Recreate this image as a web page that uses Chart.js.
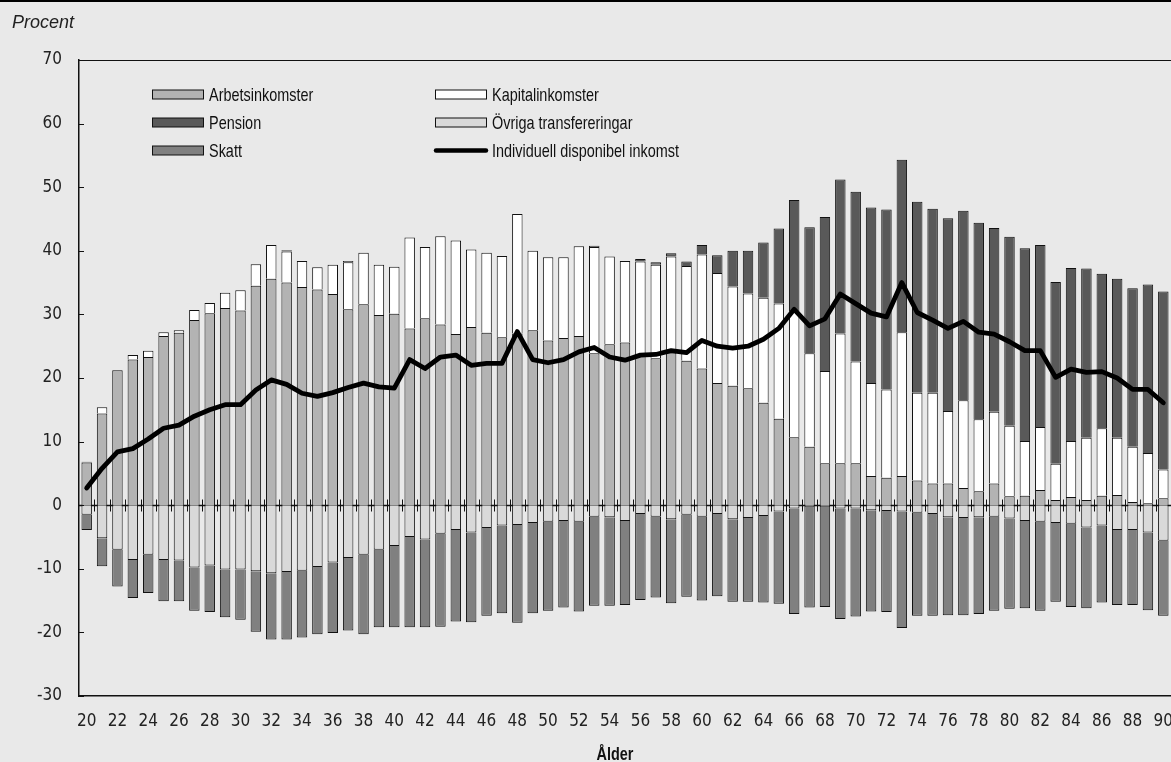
<!DOCTYPE html>
<html><head><meta charset="utf-8">
<script src="https://cdn.jsdelivr.net/npm/chart.js@4.4.1/dist/chart.umd.min.js"></script>
<style>
html,body{margin:0;padding:0;background:#e9e9e9;overflow:hidden}
#wrap{position:relative;width:1171px;height:762px}
canvas{display:block}
</style>
</head><body><div id="wrap"><canvas id="c" width="1171" height="762"></canvas></div>
<script>
const ages = ['20','21','22','23','24','25','26','27','28','29','30','31','32','33','34','35','36','37','38','39','40','41','42','43','44','45','46','47','48','49','50','51','52','53','54','55','56','57','58','59','60','61','62','63','64','65','66','67','68','69','70','71','72','73','74','75','76','77','78','79','80','81','82','83','84','85','86','87','88','89','90'];
const xTickLabels = ['20','22','24','26','28','30','32','34','36','38','40','42','44','46','48','50','52','54','56','58','60','62','64','66','68','70','72','74','76','78','80','82','84','86','88','90'];
const yTicks = [70,60,50,40,30,20,10,0,-10,-20,-30];

const arbetsinkomster = [6.7,14.4,21.2,22.9,23.3,26.6,27.1,29.1,30.2,31.0,
 30.6,34.5,35.6,35.0,34.3,33.9,33.2,30.8,31.6,29.9,
 30.1,27.8,29.4,28.4,26.9,28.0,27.1,26.4,27.0,27.5,
 25.9,26.3,26.6,23.9,25.3,25.6,23.5,23.1,24.0,22.7,
 21.5,19.2,18.8,18.4,16.1,13.6,10.7,9.2,6.6,6.6,
 6.6,4.6,4.3,4.6,3.9,3.4,3.4,2.7,2.2,3.4,
 1.4,1.5,2.4,0.8,1.3,0.8,1.5,1.6,0.5,0.3,1.1];
const kapitalinkomster = [0,1.0,0,0.7,1.0,0.6,0.4,1.6,1.6,2.4,
 3.2,3.4,5.3,4.9,4.1,3.5,4.6,7.4,8.1,7.9,
 7.4,14.3,11.2,13.9,14.7,12.2,12.6,12.8,18.8,12.5,
 13.1,12.7,14.1,16.7,13.8,12.8,14.8,14.7,15.1,14.9,
 17.9,17.3,15.6,14.9,16.5,18.1,19.8,14.7,14.5,20.4,
 16.0,14.6,13.9,22.6,13.8,14.3,11.4,13.8,11.3,11.3,
 11.1,8.6,9.9,5.7,8.8,9.8,10.6,9.0,8.7,7.9,4.5];
const pension = [0.15,0,0,0,0,0,0,0,0,0,
 0,0,0,0.2,0,0,0,0.2,0,0,
 0,0,0,0,0,0,0,0,0,0,
 0,0,0,0.2,0,0,0.4,0.4,0.5,0.7,
 1.5,2.8,5.6,6.7,8.7,11.8,17.5,19.8,24.2,24.2,
 26.7,27.6,28.3,27.1,30.0,28.9,30.3,29.8,30.9,28.9,
 29.7,30.3,28.6,28.6,27.2,26.6,24.3,25.0,24.9,26.5,28.0];
const ovrigaTransfereringar = [-1.5,-5.2,-7.0,-8.6,-7.8,-8.6,-8.7,-9.8,-9.5,-10.1,
 -10.1,-10.4,-10.7,-10.5,-10.3,-9.7,-9.0,-8.3,-7.8,-7.0,
 -6.4,-5.0,-5.4,-4.5,-3.9,-4.3,-3.6,-3.2,-3.1,-2.8,
 -2.6,-2.5,-2.6,-1.8,-1.9,-2.5,-1.4,-1.8,-2.2,-1.5,
 -1.8,-1.4,-2.2,-2.0,-1.7,-1.0,-0.5,-0.3,-0.3,-0.5,
 -0.5,-0.8,-0.9,-1.0,-1.2,-1.4,-1.9,-2.0,-1.9,-1.8,
 -2.1,-2.5,-2.6,-2.8,-2.9,-3.5,-3.2,-3.9,-3.9,-4.3,-5.6];
const skatt = [-2.4,-4.4,-5.8,-6.0,-6.0,-6.5,-6.4,-6.8,-7.3,-7.5,
 -7.9,-9.5,-10.4,-10.6,-10.5,-10.6,-11.1,-11.4,-12.5,-12.2,
 -12.8,-14.2,-13.8,-14.6,-14.4,-14.1,-13.8,-13.8,-15.4,-14.2,
 -14.0,-13.6,-14.1,-14.0,-13.9,-13.2,-13.5,-12.7,-13.2,-12.9,
 -13.2,-12.9,-13.0,-13.2,-13.6,-14.5,-16.6,-15.8,-15.7,-17.4,
 -17.0,-15.9,-15.9,-18.3,-16.2,-16.0,-15.4,-15.3,-15.2,-14.8,
 -14.2,-13.7,-14.0,-12.4,-13.1,-12.7,-12.1,-11.8,-11.8,-12.2,-11.8];
const disponibelInkomst = [2.7,5.8,8.4,8.9,10.4,12.1,12.6,14.0,15.0,15.8,
 15.8,18.1,19.7,19.0,17.6,17.1,17.7,18.5,19.2,18.6,
 18.4,22.9,21.5,23.3,23.6,22.0,22.3,22.3,27.3,22.9,
 22.4,22.9,24.1,24.8,23.3,22.8,23.6,23.7,24.3,24.0,
 25.9,25.0,24.7,25.0,26.1,27.8,30.8,28.2,29.3,33.2,
 31.7,30.2,29.6,35.0,30.3,29.1,27.8,28.9,27.2,26.9,
 25.7,24.3,24.3,20.1,21.4,20.9,21.0,20.0,18.2,18.2,16.1];

const NARROW = '"Liberation Sans Narrow", "DejaVu Sans Condensed", "Arial Narrow", sans-serif';
const SANS = '"Liberation Sans", Arial, sans-serif';
const BG = '#e9e9e9';

function barDs(label, data, color) {
  return { type:'bar', label, data, backgroundColor: color, borderColor:'#111', borderWidth:1,
    stack:'s', order:1, barPercentage:0.68, categoryPercentage:1.0 };
}

function condensedText(ctx, text, x, y, sx) {
  ctx.save(); ctx.translate(x, y); ctx.scale(sx, 1); ctx.fillText(text, 0, 0); ctx.restore();
}

const decor = {
  id:'decor',
  beforeDraw(chart){
    const ctx = chart.ctx;
    ctx.save(); ctx.fillStyle = BG; ctx.fillRect(0,0,chart.width,chart.height);
    ctx.fillStyle = '#000'; ctx.fillRect(0,0,chart.width,2);
    ctx.restore();
  },
  afterDatasetDraw(chart, args){
    if (args.index !== 4) return;
    const ctx = chart.ctx, ca = chart.chartArea, x = chart.scales.x, y = chart.scales.y;
    const y0 = Math.round(y.getPixelForValue(0)) + 0.5;
    const half = (x.getPixelForValue(1) - x.getPixelForValue(0)) / 2;
    ctx.save();
    ctx.strokeStyle = '#111'; ctx.lineWidth = 1.3;
    ctx.beginPath(); ctx.moveTo(ca.left, y0); ctx.lineTo(ca.right, y0); ctx.stroke();
    ctx.lineWidth = 1;
    ctx.beginPath();
    for (let i = 0; i < ages.length; i++) {
      const xb = Math.round(x.getPixelForValue(i) + half) + 0.5;
      ctx.moveTo(xb, y0 - 6); ctx.lineTo(xb, y0 + 6);
    }
    ctx.stroke();
    ctx.restore();
  },
  afterDraw(chart){
    const ctx = chart.ctx, ca = chart.chartArea, y = chart.scales.y;
    ctx.save();
    ctx.strokeStyle = '#111'; ctx.lineWidth = 1;
    ctx.beginPath(); ctx.moveTo(ca.left, Math.round(ca.top)+0.5); ctx.lineTo(ca.right, Math.round(ca.top)+0.5); ctx.stroke();
    ctx.beginPath();
    yTicks.forEach(v => { const py = Math.round(y.getPixelForValue(v)) + 0.5; ctx.moveTo(ca.left, py); ctx.lineTo(ca.left + 5, py); });
    ctx.stroke();
    // Procent
    ctx.fillStyle = '#222'; ctx.font = 'italic 18px ' + SANS;
    ctx.textAlign = 'left'; ctx.textBaseline = 'alphabetic';
    ctx.fillText('Procent', 12, 28);
    // x title
    ctx.fillStyle = '#111'; ctx.font = 'bold 19px ' + SANS; ctx.textAlign = 'center';
    condensedText(ctx, 'Ålder', 615, 760, 0.76);
    // legend
    const cols = [152, 435], rows = [94.5, 122.5, 150.5];
    ctx.textBaseline = 'middle'; ctx.textAlign = 'left';
    chart.data.datasets.forEach((ds, i) => {
      const cx = cols[i % 2], cy = rows[Math.floor(i / 2)];
      if (ds.type === 'line') {
        ctx.strokeStyle = '#000'; ctx.lineWidth = 4.5; ctx.lineCap = 'round';
        ctx.beginPath(); ctx.moveTo(cx + 1, cy); ctx.lineTo(cx + 51, cy); ctx.stroke();
      } else {
        ctx.fillStyle = '#111'; ctx.fillRect(cx, cy - 5, 52, 10);
        ctx.fillStyle = ds.backgroundColor; ctx.fillRect(cx + 1, cy - 4, 50, 8);
      }
      ctx.fillStyle = '#111'; ctx.font = '19px ' + SANS;
      condensedText(ctx, ds.label, cx + 57, cy + 1, 0.76);
    });
    ctx.restore();
  }
};

new Chart(document.getElementById('c'), {
  data: {
    labels: ages,
    datasets: [
      barDs('Arbetsinkomster', arbetsinkomster, '#b3b3b3'),
      barDs('Kapitalinkomster', kapitalinkomster, '#ffffff'),
      barDs('Pension', pension, '#595959'),
      barDs('Övriga transfereringar', ovrigaTransfereringar, '#d9d9d9'),
      barDs('Skatt', skatt, '#808080'),
      { type:'line', label:'Individuell disponibel inkomst', data: disponibelInkomst, stack:'line', order:0,
        borderColor:'#000', backgroundColor:'#000', borderWidth:4.8, pointRadius:0, tension:0,
        borderJoinStyle:'round', borderCapStyle:'round', fill:false }
    ]
  },
  options: {
    responsive:false, animation:false, devicePixelRatio:1,
    layout:{ padding:{ top:60, right:0, left:0, bottom:0 } },
    plugins:{ legend:{display:false}, tooltip:{enabled:false}, title:{display:false} },
    scales:{
      x:{ stacked:true, offset:true,
        grid:{ display:false, drawTicks:false }, border:{ display:true, color:'#111', width:1.5 },
        ticks:{ autoSkip:false, maxRotation:0, minRotation:0, padding:15, color:'#222',
          font:{ family:NARROW, size:17 },
          callback:(v, i) => xTickLabels.includes(ages[i]) ? ages[i] : '' },
        afterFit:(s) => { s.height = 66; s.paddingLeft = 0; s.paddingRight = 0; }
      },
      y:{ stacked:true, min:-30, max:70,
        grid:{ display:false, drawTicks:false }, border:{ display:true, color:'#111', width:1.5 },
        ticks:{ stepSize:10, padding:17, color:'#222', font:{ family:NARROW, size:17 },
          callback:(v) => yTicks.includes(v) ? String(v) : '' },
        afterFit:(s) => { s.width = 79; s.paddingTop = 0; s.paddingBottom = 0; }
      }
    }
  },
  plugins:[decor]
});
</script>
</body></html>
